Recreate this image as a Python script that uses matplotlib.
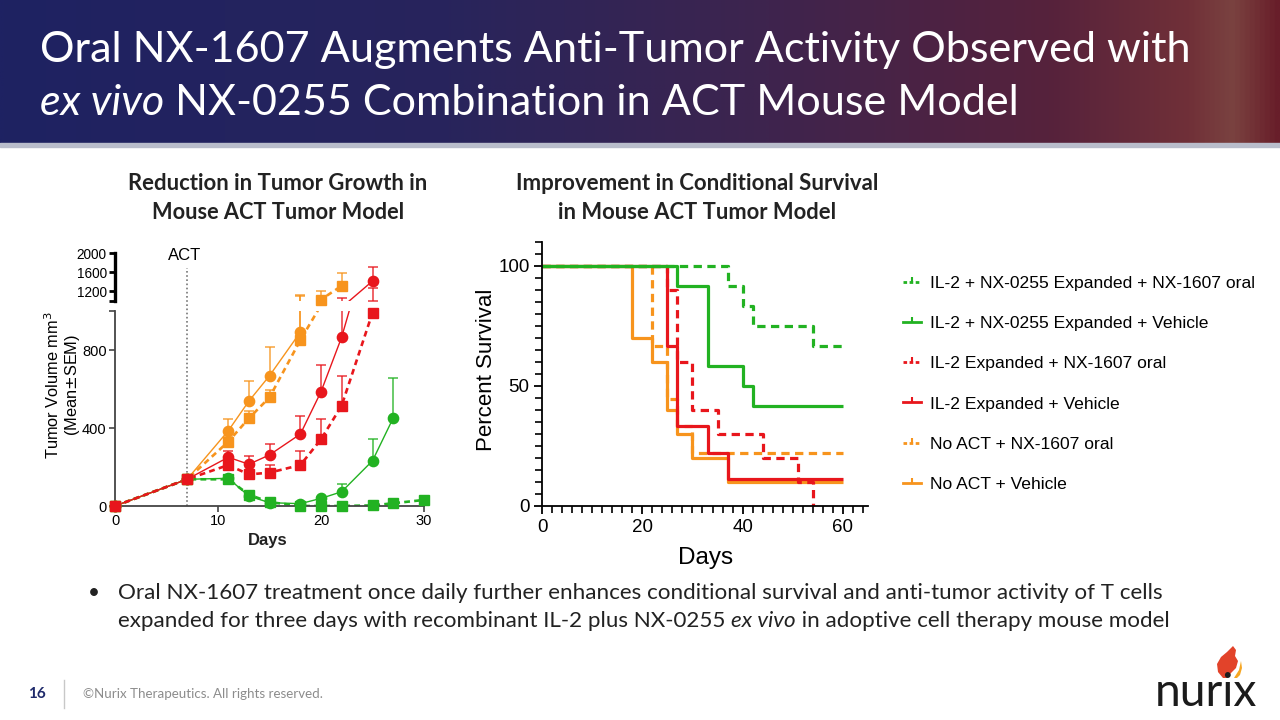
import numpy as np
import matplotlib
matplotlib.use("Agg")
import matplotlib.pyplot as plt
from matplotlib.lines import Line2D
from matplotlib.patches import Polygon, Rectangle
from matplotlib.transforms import IdentityTransform
from matplotlib.colors import LinearSegmentedColormap

# ---------------- data: tumor growth (mean, upper SEM) ----------------
tg_ov_days = [0, 7, 11, 13, 15, 18]                       # No ACT + Vehicle
tg_ov_mean = [0, 137, 386, 538, 668, 892]
tg_ov_sem = [0, 0, 60, 103, 146, 238]

tg_on_days = [0, 7, 11, 13, 15, 18, 20, 22]               # No ACT + NX-1607 oral
tg_on_mean = [0, 137, 330, 450, 557, 851, 1030, 1315]
tg_on_sem = [0, 0, 25, 35, 40, 250, 180, 275]

tg_gv_days = [0, 7, 11, 13, 15, 18, 20, 22, 25, 27]       # IL-2 + NX-0255 + Vehicle
tg_gv_mean = [0, 137, 142, 51, 17, 12, 39, 73, 232, 450]
tg_gv_sem = [0, 0, 15, 10, 5, 4, 8, 38, 110, 208]

tg_gn_days = [0, 7, 11, 13, 15, 18, 20, 22, 25, 27, 30]   # IL-2 + NX-0255 + NX-1607
tg_gn_mean = [0, 137, 137, 58, 20, 0, 0, 0, 3, 14, 31]
tg_gn_sem = [0, 0, 8, 6, 4, 0, 0, 0, 2, 4, 5]

tg_rv_days = [0, 7, 11, 13, 15, 18, 20, 22, 25]           # IL-2 Expanded + Vehicle
tg_rv_mean = [0, 137, 250, 214, 262, 369, 586, 865, 1415]
tg_rv_sem = [0, 0, 32, 42, 54, 93, 137, 195, 295]

tg_rn_days = [0, 7, 11, 13, 15, 18, 20, 22, 25]           # IL-2 Expanded + NX-1607
tg_rn_mean = [0, 137, 210, 162, 171, 210, 342, 514, 991]
tg_rn_sem = [0, 0, 25, 20, 39, 72, 104, 153, 280]

act_day = 7

# ---------------- data: survival ----------------
sv_gn_days = [0, 37, 40, 42, 54, 60]
sv_gn_pct = [100, 91.7, 83.3, 75, 66.7, 66.7]
sv_gv_days = [0, 27, 33, 40, 42, 60]
sv_gv_pct = [100, 91.7, 58.3, 50, 41.7, 41.7]
sv_rn_days = [0, 25, 27, 30, 35, 44, 51, 54]
sv_rn_pct = [100, 90, 60, 40, 30, 20, 10, 0]
sv_rv_days = [0, 25, 27, 33, 37, 60]
sv_rv_pct = [100, 66.7, 33.3, 22.2, 11.1, 11.1]
sv_on_days = [0, 22, 25, 27, 30, 60]
sv_on_pct = [100, 66.7, 44.4, 33.3, 22.2, 22.2]
sv_ov_days = [0, 18, 22, 25, 27, 30, 37, 60]
sv_ov_pct = [100, 70, 60, 40, 30, 20, 10, 10]

group_labels = ["IL-2 + NX-0255 Expanded + NX-1607 oral",
                "IL-2 + NX-0255 Expanded + Vehicle",
                "IL-2 Expanded + NX-1607 oral",
                "IL-2 Expanded + Vehicle",
                "No ACT + NX-1607 oral",
                "No ACT + Vehicle"]

GREEN = "#22B222"
RED = "#E8161C"
ORANGE = "#F7941D"

# ---------------- figure ----------------
W, H = 1280, 720
fig = plt.figure(figsize=(W / 100, H / 100), dpi=100)
fig.patch.set_facecolor("white")
ID = IdentityTransform()
renderer = fig.canvas.get_renderer()
SLIDE_FONT = "Lato"
CHART_FONT = "Liberation Sans"


def rect(x0, y0, x1, y1):
    return [x0 / W, 1 - y1 / H, (x1 - x0) / W, (y1 - y0) / H]


def put(x, y, s, size, **kw):
    return fig.text(x, H - y, s, transform=ID, fontsize=size, **kw)


def segs_line(x, y, segs, size, **kw):
    texts, cx = [], x
    for s, style in segs:
        t = put(cx, y, s, size, fontstyle=style, va="baseline", ha="left", **kw)
        cx += t.get_window_extent(renderer).width
        texts.append(t)
    return texts, cx - x


def fitted(x, y, segs, target, size0=20, **kw):
    texts, w = segs_line(x, y, segs, size0, **kw)
    for t in texts:
        t.remove()
    size = size0 * target / w
    segs_line(x, y, segs, size, **kw)
    return size


def fitted_center(xc, y, s, target, size0=15, **kw):
    t = put(xc, y, s, size0, ha="center", va="baseline", **kw)
    w = t.get_window_extent(renderer).width
    t.set_fontsize(size0 * target / w)
    return t


# ---------------- header ----------------
hax = fig.add_axes(rect(0, 0, W, 143))
stops = [(0.0, (30, 34, 98)), (0.35, (40, 36, 92)), (0.6, (62, 36, 78)),
         (0.82, (86, 34, 60)), (0.93, (112, 48, 56)), (0.965, (122, 66, 64)),
         (1.0, (104, 30, 42))]
cmap = LinearSegmentedColormap.from_list(
    "hdr", [(p, tuple(v / 255 for v in c)) for p, c in stops])
hax.imshow(np.linspace(0, 1, 512)[None, :], aspect="auto", cmap=cmap,
           extent=[0, 1, 0, 1])
hax.set_axis_off()
fig.add_artist(Rectangle((0, H - 147), W, 4, transform=ID, color="#B9BDCB",
                         zorder=5))

fitted(40, 62, [("Oral NX-1607 Augments Anti-Tumor Activity Observed with", "normal")],
       1150, size0=30, family=SLIDE_FONT, color="white")
tsize = fig.texts[-1].get_fontsize()
segs_line(40, 115, [("ex vivo", "italic"),
                    (" NX-0255 Combination in ACT Mouse Model", "normal")],
          tsize, family=SLIDE_FONT, color="white")

# ---------------- subtitles ----------------
fitted_center(278, 190, "Reduction in Tumor Growth in", 300, family=SLIDE_FONT,
              weight="bold", color="#222222")
fitted_center(278, 219, "Mouse ACT Tumor Model", 252, family=SLIDE_FONT,
              weight="bold", color="#222222")
fitted_center(697, 190, "Improvement in Conditional Survival", 364,
              family=SLIDE_FONT, weight="bold", color="#222222")
fitted_center(697, 219, "in Mouse ACT Tumor Model", 278, family=SLIDE_FONT,
              weight="bold", color="#222222")

# ---------------- tumor growth chart (broken axis) ----------------
ax_lo = fig.add_axes(rect(115, 311, 424, 506))
ax_hi = fig.add_axes(rect(115, 253, 424, 301))
ax_hi.patch.set_alpha(0)
ax_lo.patch.set_alpha(0)

growth = [
    (tg_ov_days, tg_ov_mean, tg_ov_sem, ORANGE, "o", False),
    (tg_on_days, tg_on_mean, tg_on_sem, ORANGE, "s", True),
    (tg_gv_days, tg_gv_mean, tg_gv_sem, GREEN, "o", False),
    (tg_gn_days, tg_gn_mean, tg_gn_sem, GREEN, "s", True),
    (tg_rv_days, tg_rv_mean, tg_rv_sem, RED, "o", False),
    (tg_rn_days, tg_rn_mean, tg_rn_sem, RED, "s", True),
]
for ax, lo, hi in [(ax_lo, 0, 1000), (ax_hi, 1000, 2000)]:
    for d, m, e, c, mk, dashed in growth:
        d = np.asarray(d, float)
        m = np.asarray(m, float)
        e = np.asarray(e, float)
        ax.errorbar(d, m, yerr=[np.zeros_like(e), e], fmt="none", ecolor=c,
                    elinewidth=1.1, capsize=3.5, capthick=1.1, alpha=0.85)
        ax.plot(d, m, color=c, lw=1.9 if dashed else 1.0,
                ls=(0, (2.2, 1.6)) if dashed else "-")
        inside = (m >= lo) & (m <= hi)
        ax.plot(d[inside], m[inside], ls="none", marker=mk, color=c,
                ms=7.0 if mk == "s" else 7.4, mec=c, clip_on=False, zorder=4)
    ax.set_xlim(0, 30)
    ax.set_ylim(lo, hi)

ax_lo.set_xticks([0, 10, 20, 30])
ax_lo.set_yticks([0, 400, 800])
ax_lo.set_yticks([1000], minor=True)
for s in ["top", "right"]:
    ax_lo.spines[s].set_visible(False)
for s in ["left", "bottom"]:
    ax_lo.spines[s].set_color("#444444")
    ax_lo.spines[s].set_linewidth(1.3)
ax_lo.tick_params(which="both", direction="out", length=4, width=1.2,
                  color="#444444", labelsize=10.5, pad=2)
for lab in ax_lo.get_xticklabels() + ax_lo.get_yticklabels():
    lab.set_family(CHART_FONT)

ax_hi.set_yticks([1200, 1600, 2000])
ax_hi.set_yticks([1000], minor=True)
ax_hi.set_xticks([])
for s in ["top", "right", "bottom"]:
    ax_hi.spines[s].set_visible(False)
ax_hi.spines["left"].set_linewidth(2.4)
ax_hi.spines["left"].set_color("black")
ax_hi.tick_params(which="both", direction="out", length=4, width=2,
                  color="black", labelsize=9.8, pad=2)
for lab in ax_hi.get_yticklabels():
    lab.set_family(CHART_FONT)

ax_lo.axvline(act_day, ymin=0, ymax=(506 - 268) / 195, color="#777777",
              lw=1.2, ls=(0, (1, 1.5)), clip_on=False, zorder=1)
put(185, 256, "ACT", 12, family=CHART_FONT, ha="center", va="center")
put(268, 541, "Days", 12, family=CHART_FONT, weight="bold", ha="center",
    va="center", color="#222222")
put(53, 385, "Tumor Volume mm$^3$", 11.8, family=CHART_FONT, rotation=90,
    ha="center", va="center")
put(72, 385, "(Mean$\\pm$SEM)", 11.8, family=CHART_FONT, rotation=90,
    ha="center", va="center")

# ---------------- survival chart ----------------
ax_s = fig.add_axes(rect(542, 242, 868, 506))
survival = [
    (sv_ov_days, sv_ov_pct, ORANGE, False, group_labels[5]),
    (sv_on_days, sv_on_pct, ORANGE, True, group_labels[4]),
    (sv_rn_days, sv_rn_pct, RED, True, group_labels[2]),
    (sv_rv_days, sv_rv_pct, RED, False, group_labels[3]),
    (sv_gv_days, sv_gv_pct, GREEN, False, group_labels[1]),
    (sv_gn_days, sv_gn_pct, GREEN, True, group_labels[0]),
]
for d, p, c, dashed, lab in survival:
    ax_s.step(d, p, where="post", color=c, lw=2.3,
              ls=(0, (2.6, 1.7)) if dashed else "-", clip_on=False,
              solid_capstyle="butt")
ax_s.set_xlim(0, 65)
ax_s.set_ylim(0, 110)
ax_s.set_xticks([0, 20, 40, 60])
ax_s.set_xticks(np.arange(0, 65, 2), minor=True)
ax_s.set_yticks([0, 50, 100])
ax_s.set_yticks(np.arange(0, 111, 5), minor=True)
for s in ["top", "right"]:
    ax_s.spines[s].set_visible(False)
for s in ["left", "bottom"]:
    ax_s.spines[s].set_linewidth(1.3)
ax_s.tick_params(which="major", direction="out", length=6, width=1.3,
                 labelsize=13.5, pad=3)
ax_s.tick_params(which="minor", direction="out", length=5, width=1.2)
for lab in ax_s.get_xticklabels() + ax_s.get_yticklabels():
    lab.set_family(CHART_FONT)
put(487, 370, "Percent Survival", 16, family=CHART_FONT, rotation=90,
    ha="center", va="center")
put(706, 558, "Days", 17.5, family=CHART_FONT, ha="center", va="center")

# legend
legend_order = [
    (GREEN, True), (GREEN, False), (RED, True), (RED, False),
    (ORANGE, True), (ORANGE, False)]
handles = [Line2D([0], [0], color=c, lw=2.0,
                  ls=(0, (1.3, 0.9)) if dashed else "-",
                  marker=2, ms=3.5, mew=1.5)
           for c, dashed in legend_order]
fig.legend(handles, group_labels, loc="upper left",
           bbox_to_anchor=(903 / W, 1 - 276 / H), frameon=False,
           prop={"family": CHART_FONT, "size": 12.6}, handlelength=1.0,
           handletextpad=0.55, labelspacing=1.42, borderpad=0,
           borderaxespad=0)

# ---------------- bullet text ----------------
put(88, 599, "\u2022", 15, family=SLIDE_FONT, color="#222222")
bsize = fitted(118, 599, [("Oral NX-1607 treatment once daily further enhances "
                           "conditional survival and anti-tumor activity of T cells",
                           "normal")], 1045, size0=15, family=SLIDE_FONT,
               color="#222222")
segs_line(118, 627, [("expanded for three days with recombinant IL-2 plus NX-0255 ",
                      "normal"), ("ex vivo", "italic"),
                     (" in adoptive cell therapy mouse model", "normal")],
          bsize, family=SLIDE_FONT, color="#222222")

# ---------------- footer ----------------
put(37, 698, "16", 11, family=SLIDE_FONT, weight="bold", color="#1F2A6B",
    ha="center", va="baseline")
fig.add_artist(Line2D([64, 64], [H - 680, H - 708], transform=ID,
                      color="#C8C8C8", lw=1))
fitted(83, 698, [("\u00a9Nurix Therapeutics. All rights reserved.", "normal")],
       239, size0=10, family=SLIDE_FONT, color="#8C8C8C")
fitted(1155, 706, [("nurix", "normal")], 102, size0=40, family="Lato",
       color="#1B1B1B")
flame = [(1223, 678), (1218, 672), (1217, 664), (1221, 657), (1227, 652),
         (1233, 646), (1236, 650), (1235, 656), (1238, 661), (1236, 668),
         (1231, 673), (1227, 678)]
fig.add_artist(Polygon([(x, H - y) for x, y in flame], closed=True,
                       transform=ID, color="#E2432A", lw=0))
sliver = [(1234, 678), (1239, 670), (1241, 661), (1242, 668), (1240, 675),
          (1237, 678)]
fig.add_artist(Polygon([(x, H - y) for x, y in sliver], closed=True,
                       transform=ID, color="#F6A623", lw=0))

fig.savefig("out.png", dpi=100)
